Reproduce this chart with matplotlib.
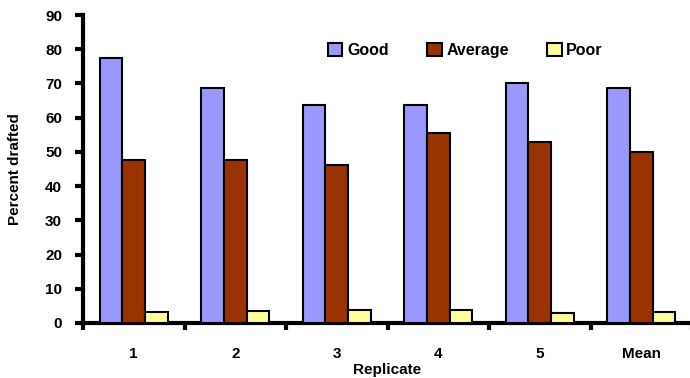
import numpy as np
import matplotlib.pyplot as plt
from matplotlib.patches import Patch

plt.rcParams['font.family'] = ['Liberation Sans', 'DejaVu Sans']
plt.rcParams['font.weight'] = 'bold'

# Data
replicates = ['1', '2', '3', '4', '5', 'Mean']
good = [77.4, 68.6, 63.6, 63.6, 70.0, 68.6]
average = [47.6, 47.6, 46.2, 55.6, 52.9, 50.0]
poor = [3.1, 3.5, 3.8, 3.8, 2.8, 3.3]

series = [('Good', good, '#9999FF'),
          ('Average', average, '#993300'),
          ('Poor', poor, '#FFFF99')]

fig = plt.figure(figsize=(6.9, 3.78), dpi=100)
ax = fig.add_axes([83 / 690, 1 - 323 / 378, 609 / 690, 308 / 378])

x = np.arange(len(replicates))
width = 0.223
for i, (name, vals, col) in enumerate(series):
    ax.bar(x + (i - 1) * width, vals, width, color=col,
           edgecolor='black', linewidth=1.5, label=name, zorder=3)

ax.set_xlim(-0.5, len(replicates) - 0.5)
ax.set_ylim(0, 90)
ax.set_yticks(range(0, 91, 10))

# category labels at centres, tick marks at the group boundaries
ax.set_xticks(x)
ax.set_xticklabels(replicates)
ax.set_xticks(np.arange(-0.5, len(replicates)), minor=True)
ax.tick_params(axis='x', which='major', length=0, pad=17, labelsize=11)
ax.tick_params(axis='x', which='minor', length=5, width=3, direction='out')
ax.tick_params(axis='y', length=6, width=3, direction='out', pad=9, labelsize=11)

for side in ['top', 'right']:
    ax.spines[side].set_visible(False)
for side in ['left', 'bottom']:
    ax.spines[side].set_linewidth(3)

ax.set_ylabel('Percent drafted', fontsize=11, fontweight='bold')
ax.yaxis.set_label_coords(-0.100, 0.5)
ax.set_xlabel('Replicate', fontsize=11, fontweight='bold', labelpad=2)

handles = [Patch(facecolor=c, edgecolor='black', linewidth=1.5, label=n)
           for n, _, c in series]
ax.legend(handles=handles, loc='center', bbox_to_anchor=(0.628, 0.886),
          ncol=3, frameon=False, fontsize=11.5, handlelength=0.9,
          handleheight=0.9, handletextpad=0.3, columnspacing=2.4)

fig.savefig('out.png', dpi=100)
